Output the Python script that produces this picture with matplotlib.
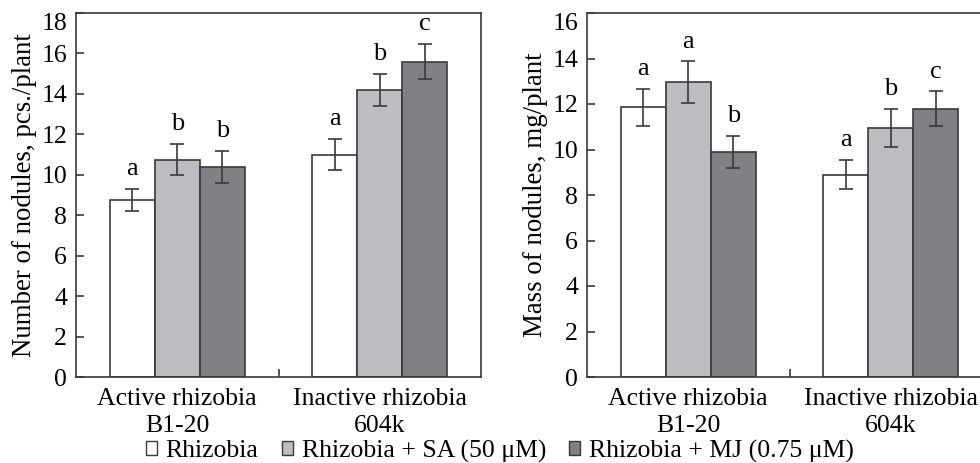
"""Nodule number and mass under SA / MJ treatment: two grouped bar panels."""

import matplotlib
matplotlib.use("Agg")
import matplotlib.pyplot as plt
import matplotlib.transforms as mtransforms
import numpy as np
from matplotlib.patches import Patch

plt.rcParams["font.family"] = ["Liberation Serif", "DejaVu Serif"]
plt.rcParams["font.size"] = 18.5

# ── Data ─────────────────────────────────────────────────────────────────
groups = ["Active rhizobia\nB1-20", "Inactive rhizobia\n604k"]
series = ["Rhizobia", "Rhizobia + SA (50 μM)", "Rhizobia + MJ (0.75 μM)"]
colors = ["#ffffff", "#bcbdc0", "#808184"]

count_mean = [[8.75, 11.0], [10.75, 14.2], [10.4, 15.6]]
count_err = [[0.55, 0.77], [0.77, 0.8], [0.8, 0.85]]
count_letters = [["a", "a"], ["b", "b"], ["b", "c"]]

mass_mean = [[11.85, 8.9], [12.95, 10.95], [9.9, 11.8]]
mass_err = [[0.82, 0.65], [0.92, 0.83], [0.7, 0.75]]
mass_letters = [["a", "a"], ["a", "b"], ["b", "c"]]

EDGE = "#3a3a3a"


def draw_panel(ax, means, errs, letters, ymax, ylabel):
    x = np.arange(len(groups))
    w = 0.222
    for i in range(len(series)):
        pos = x + (i - 1) * w
        ax.bar(pos, means[i], width=w, color=colors[i], edgecolor=EDGE,
               linewidth=1.2, zorder=2)
        ax.errorbar(pos, means[i], yerr=errs[i], fmt="none", ecolor=EDGE,
                    elinewidth=1.2, capsize=5, capthick=1.2, zorder=3)
        for px, m, e, lab in zip(pos, means[i], errs[i], letters[i]):
            ax.annotate(lab, (px, m + e), xytext=(0, 10),
                        textcoords="offset points", ha="center",
                        va="baseline", fontsize=19)

    ax.set_xlim(-0.5, 1.5)
    ax.set_ylim(0, ymax)
    ax.set_yticks(np.arange(0, ymax + 1, 2))
    ax.set_xticks(x)
    ax.set_xticklabels(groups, linespacing=1.3)
    ax.set_xticks([0.5], minor=True)
    ax.tick_params(axis="x", which="major", length=0, pad=8)
    ax.tick_params(axis="x", which="minor", direction="in", length=5.5,
                   width=1.2, color=EDGE)
    ax.tick_params(axis="y", direction="in", length=5.5, width=1.2,
                   color=EDGE, pad=6.5)
    ax.set_ylabel(ylabel, labelpad=3, fontsize=19.4)
    for s in ax.spines.values():
        s.set_color(EDGE)
        s.set_linewidth(1.2)

    # top tick label sits a little below the top spine
    fig = ax.figure
    shift = mtransforms.ScaledTranslation(0, -9 / 100, fig.dpi_scale_trans)
    top = ax.get_yticklabels()[-1]
    top.set_transform(top.get_transform() + shift)


fig = plt.figure(figsize=(9.8, 4.63), dpi=100)
ax1 = fig.add_axes([76 / 980, 86 / 463, 405 / 980, 364 / 463])
ax2 = fig.add_axes([587 / 980, 86 / 463, 405 / 980, 364 / 463])

draw_panel(ax1, count_mean, count_err, count_letters, 18,
           "Number of nodules, pcs./plant")
draw_panel(ax2, mass_mean, mass_err, mass_letters, 16,
           "Mass of nodules, mg/plant")

handles = [Patch(facecolor=c, edgecolor=EDGE, linewidth=1.0) for c in colors]
fig.legend(handles, series, loc="center", bbox_to_anchor=(0.51, 0.026),
           ncol=3, frameon=False, handlelength=0.42, handleheight=0.42,
           handletextpad=0.35, columnspacing=0.9, borderpad=0,
           fontsize=18.5)

fig.savefig("out.png", dpi=100)
